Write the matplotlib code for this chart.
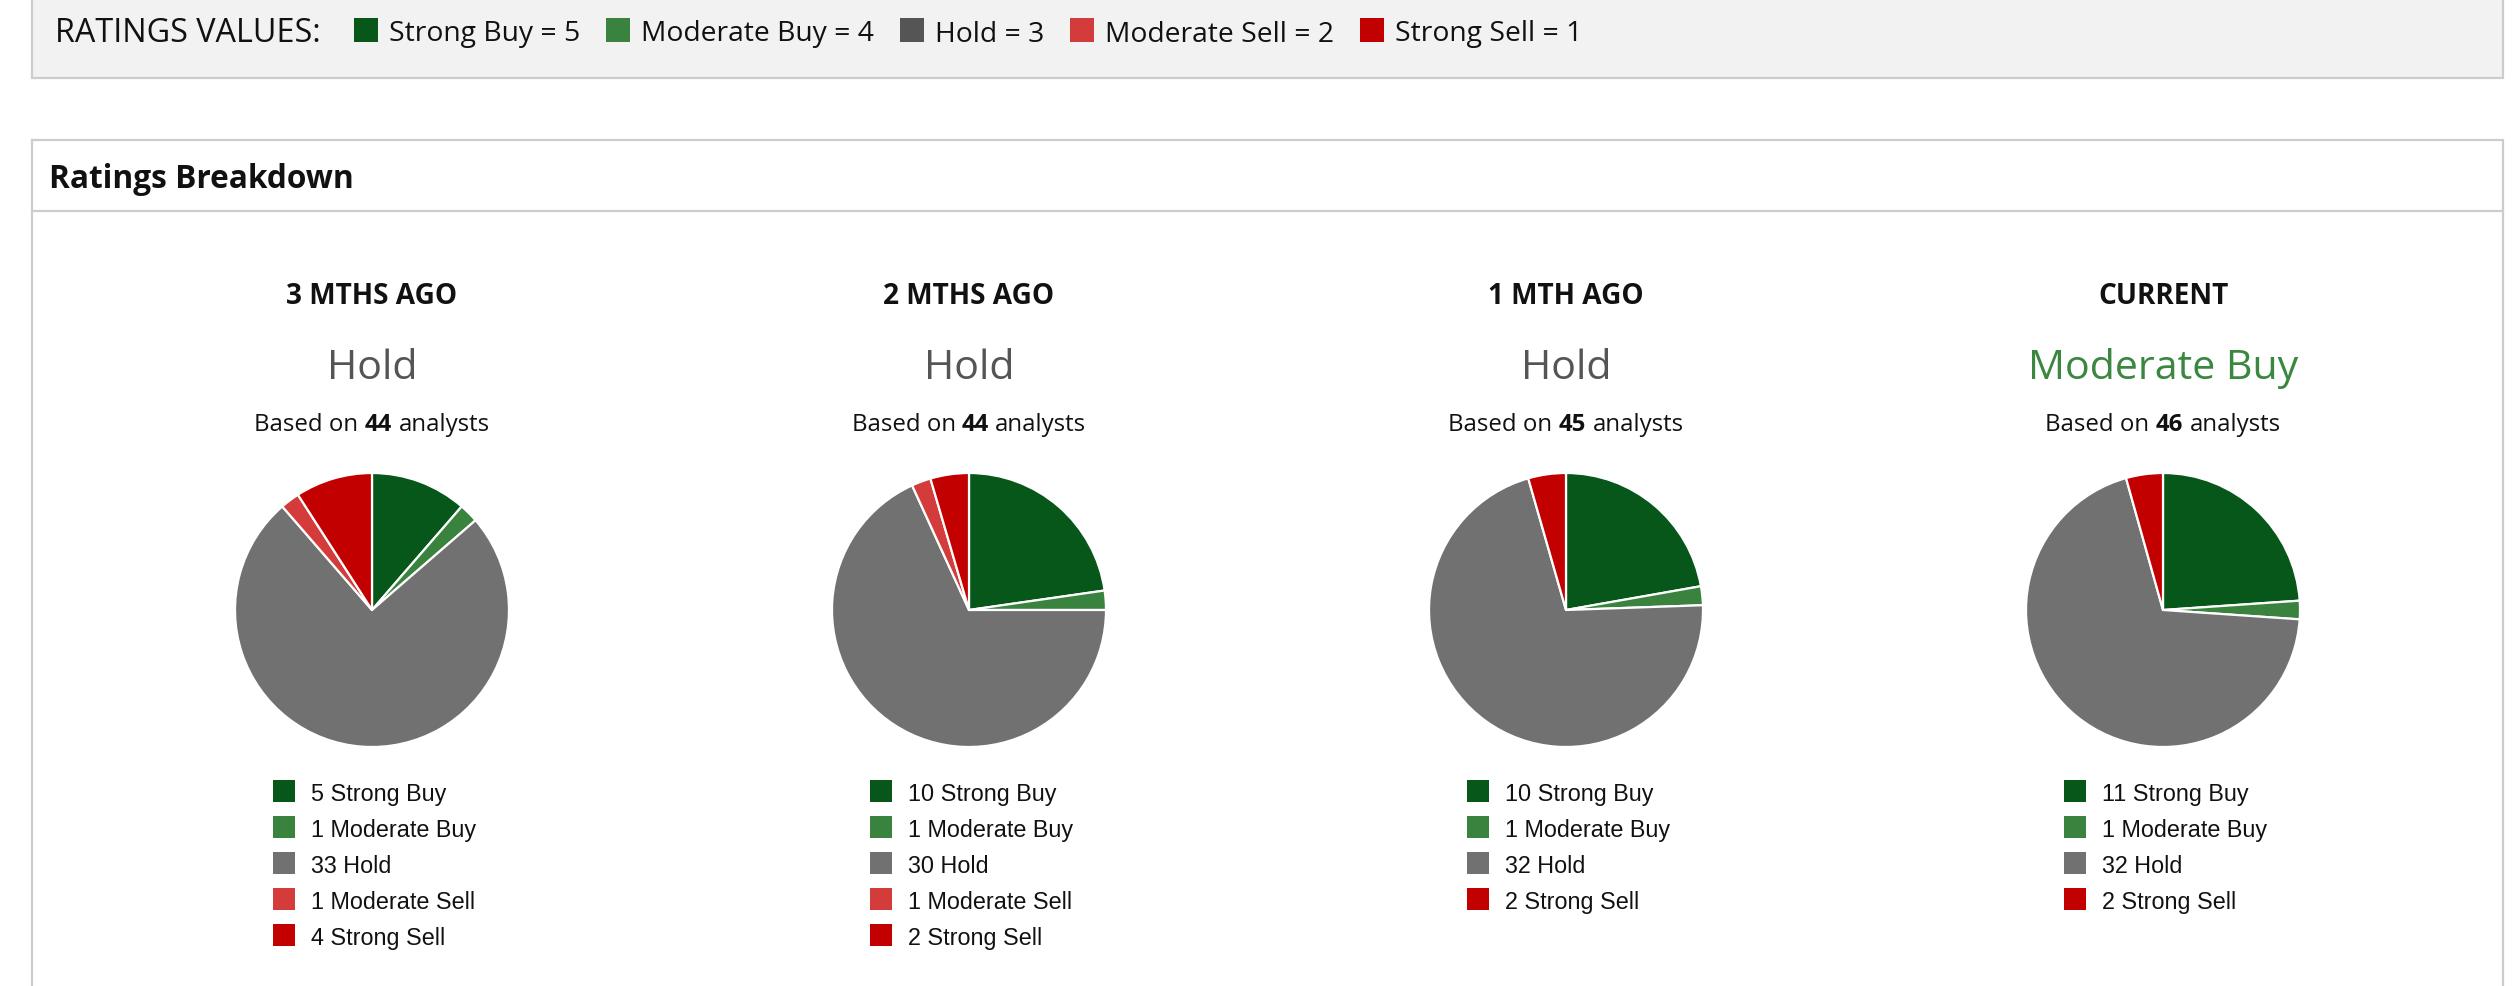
import matplotlib
matplotlib.use("Agg")
import matplotlib.pyplot as plt
from matplotlib.patches import Rectangle

# ---------------- data ----------------
categories = ["Strong Buy", "Moderate Buy", "Hold", "Moderate Sell", "Strong Sell"]
rating_values = [5, 4, 3, 2, 1]
periods = ["3 MTHS AGO", "2 MTHS AGO", "1 MTH AGO", "CURRENT"]
consensus = ["Hold", "Hold", "Hold", "Moderate Buy"]
analysts = [44, 44, 45, 46]
strong_buy = [5, 10, 10, 11]
moderate_buy = [1, 1, 1, 1]
hold = [33, 30, 32, 32]
moderate_sell = [1, 1, 0, 0]
strong_sell = [4, 2, 2, 2]

# ---------------- style ----------------
cat_colors = ["#07561a", "#3a833e", "#717171", "#d43c3c", "#c30000"]
top_colors = ["#07561a", "#3a833e", "#555555", "#d43c3c", "#c30000"]
consensus_colors = {"Hold": "#555555", "Moderate Buy": "#3a873f"}
FONT = "Open Sans"
LFONT = "Liberation Sans"
W, H = 2516, 986

fig = plt.figure(figsize=(W / 100, H / 100), dpi=100)
fig.patch.set_facecolor("white")
ax = fig.add_axes([0, 0, 1, 1])
ax.set_xlim(0, W)
ax.set_ylim(H, 0)
ax.axis("off")
renderer = fig.canvas.get_renderer()


def text_width(s, **kw):
    t = ax.text(0, 0, s, **kw)
    bb = t.get_window_extent(renderer=renderer)
    t.remove()
    return bb.width


def draw_runs(runs, cx, y, size, color, family):
    # runs: list of (text, weight); centred at cx, baseline y
    sp = text_width("a a", fontsize=size, family=family) - text_width("aa", fontsize=size, family=family)
    widths = [text_width(s, fontsize=size, family=family, fontweight=w) for s, w in runs]
    total = sum(widths) + sp * (len(runs) - 1)
    x = cx - total / 2
    for (s, w), wd in zip(runs, widths):
        ax.text(x, y, s, fontsize=size, family=family, fontweight=w, color=color,
                ha="left", va="baseline")
        x += wd + sp


# ---------------- top "ratings values" bar ----------------
ax.add_patch(Rectangle((32, -10), 2503 - 32, 78 + 10, facecolor="#f2f2f2",
                       edgecolor="#cccccc", linewidth=1.6))
ax.text(55, 42.5, "RATINGS VALUES:", fontsize=23.3, family=FONT, color="#111111",
        ha="left", va="baseline")
x = 354
for cat, val, col in zip(categories, rating_values, top_colors):
    ax.add_patch(Rectangle((x, 18), 24, 24, facecolor=col, edgecolor="none"))
    label = f"{cat} = {val}"
    ax.text(x + 35, 41.5, label, fontsize=20.3, family=FONT, color="#111111",
            ha="left", va="baseline")
    x = x + 35 + text_width(label, fontsize=20.3, family=FONT) + 26

# ---------------- ratings breakdown box ----------------
ax.add_patch(Rectangle((32, 140), 2503 - 32, 900, facecolor="white",
                       edgecolor="#cccccc", linewidth=1.6))
ax.plot([32, 2503], [211, 211], color="#cccccc", linewidth=1.6)
ax.text(49, 188, "Ratings Breakdown", fontsize=22.8, family=FONT, fontweight="bold",
        color="#111111", ha="left", va="baseline")

col_centers = [372, 969, 1566, 2163]
pie_cy, pie_r = 610, 137
pad = 1.06

series = [strong_buy, moderate_buy, hold, moderate_sell, strong_sell]
for i, cx in enumerate(col_centers):
    ax.text(cx, 304, periods[i], fontsize=20.2, family=FONT, fontweight="bold",
            color="#111111", ha="center", va="baseline")
    ax.text(cx, 379, consensus[i], fontsize=29.6, family=FONT,
            color=consensus_colors[consensus[i]], ha="center", va="baseline")
    draw_runs([("Based on", "normal"), (str(analysts[i]), "bold"), ("analysts", "normal")],
              cx, 431, 17.3, "#111111", FONT)

    vals = [s[i] for s in series]
    keep = [k for k, v in enumerate(vals) if v > 0]
    pv = [vals[k] for k in keep]
    pc = [cat_colors[k] for k in keep]
    half = pie_r * pad
    pax = fig.add_axes([(cx - half) / W, 1 - (pie_cy + half) / H, 2 * half / W, 2 * half / H])
    pax.pie(pv, colors=pc, startangle=90, counterclock=False, radius=1,
            wedgeprops=dict(edgecolor="white", linewidth=1.6, joinstyle="round"))
    pax.set_xlim(-pad, pad)
    pax.set_ylim(-pad, pad)
    pax.set_aspect("equal")
    pax.axis("off")

    # legend
    for j, k in enumerate(keep):
        top = 780 + 36 * j
        ax.add_patch(Rectangle((cx - 99, top), 22, 22, facecolor=cat_colors[k], edgecolor="none"))
        ax.text(cx - 61, top + 12, f"{vals[k]} {categories[k]}", fontsize=16.8, family=LFONT,
                color="#111111", ha="left", va="center_baseline")

fig.savefig("out.png", dpi=100, facecolor="white")
